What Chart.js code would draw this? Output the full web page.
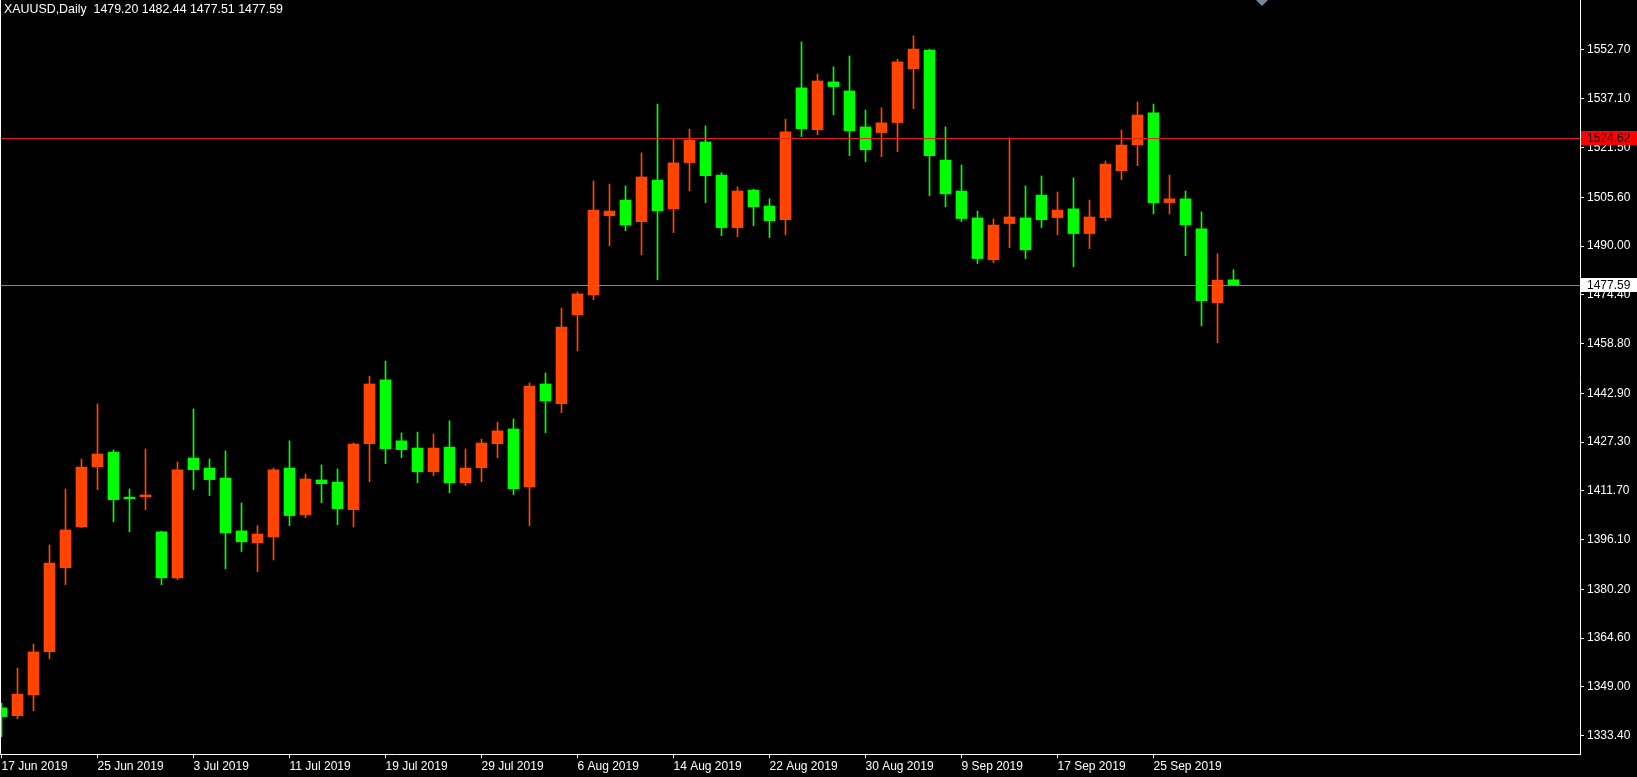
<!DOCTYPE html>
<html>
<head>
<meta charset="utf-8">
<title>XAUUSD Daily</title>
<script src="https://cdn.jsdelivr.net/npm/chart.js@4.4.1/dist/chart.umd.min.js"></script>
<style>
  html, body { margin: 0; padding: 0; background: #000; }
  canvas { display: block; }
</style>
</head>
<body>
<canvas id="xauChart" width="1637" height="777"></canvas>
<script>
const symbolTitle = "XAUUSD,Daily  1479.20 1482.44 1477.51 1477.59";

// daily OHLC, 17 Jun 2019 .. 2 Oct 2019
const opens = [1342.3, 1339.8, 1346.5, 1360.3, 1387.1, 1400.2, 1419.4, 1424.1, 1409.7, 1409.8,
  1398.6, 1383.9, 1422.2, 1419.0, 1415.8, 1398.9, 1395.1, 1397.0, 1419.0, 1404.1,
  1415.2, 1414.5, 1405.7, 1426.8, 1447.2, 1427.7, 1425.4, 1417.8, 1425.7, 1414.3,
  1419.1, 1426.8, 1431.5, 1413.0, 1445.9, 1439.6, 1468.0, 1474.4, 1499.7, 1504.7,
  1497.8, 1511.1, 1501.9, 1516.7, 1523.3, 1512.7, 1495.9, 1507.9, 1502.8, 1498.4,
  1540.6, 1527.2, 1542.5, 1539.6, 1528.1, 1526.3, 1529.5, 1546.7, 1552.7, 1517.5,
  1507.6, 1499.0, 1485.6, 1497.2, 1499.0, 1506.3, 1499.1, 1501.9, 1494.0, 1499.1,
  1514.1, 1522.4, 1532.6, 1503.9, 1505.1, 1495.5, 1471.9, 1479.20];
const highs = [1343.8, 1355.0, 1362.7, 1394.4, 1412.3, 1421.9, 1439.5, 1424.8, 1412.3, 1425.1,
  1398.8, 1420.9, 1437.9, 1421.9, 1424.5, 1407.8, 1400.6, 1419.0, 1427.7, 1417.1,
  1420.0, 1418.7, 1427.0, 1448.4, 1453.2, 1430.2, 1430.5, 1429.9, 1434.1, 1425.1,
  1428.3, 1433.7, 1434.7, 1446.2, 1449.4, 1470.2, 1475.3, 1510.8, 1509.8, 1509.2,
  1519.8, 1535.4, 1524.2, 1527.4, 1528.4, 1513.4, 1508.9, 1508.2, 1505.1, 1530.6,
  1555.3, 1545.0, 1547.3, 1550.8, 1533.5, 1534.2, 1549.8, 1557.2, 1553.0, 1528.1,
  1515.9, 1501.2, 1498.7, 1524.6, 1509.2, 1512.4, 1507.3, 1511.8, 1504.7, 1517.2,
  1527.1, 1536.1, 1535.4, 1512.7, 1507.6, 1500.9, 1487.5, 1482.44];
const lows = [1333.1, 1338.8, 1341.4, 1358.0, 1381.7, 1399.9, 1412.1, 1401.8, 1398.6, 1405.7,
  1381.7, 1383.3, 1412.1, 1410.2, 1386.8, 1392.3, 1385.9, 1389.6, 1400.6, 1403.1,
  1407.9, 1400.9, 1400.2, 1414.6, 1420.4, 1422.3, 1414.3, 1416.6, 1411.1, 1413.4,
  1414.6, 1422.3, 1410.5, 1400.6, 1430.3, 1436.7, 1456.5, 1472.8, 1490.1, 1494.9,
  1487.2, 1479.2, 1494.3, 1507.7, 1503.9, 1493.3, 1493.0, 1496.5, 1492.7, 1493.6,
  1525.0, 1525.6, 1532.0, 1518.9, 1517.0, 1518.6, 1520.2, 1533.9, 1506.1, 1502.6,
  1497.8, 1484.4, 1484.7, 1489.5, 1486.0, 1495.9, 1493.6, 1483.4, 1489.2, 1498.1,
  1511.2, 1515.7, 1500.3, 1500.3, 1486.9, 1464.5, 1459.1, 1477.51];
const closes = [1339.5, 1346.7, 1360.2, 1388.6, 1399.2, 1419.3, 1423.5, 1408.9, 1409.2, 1410.4,
  1383.9, 1418.4, 1418.5, 1415.3, 1398.3, 1395.4, 1397.9, 1418.4, 1403.8, 1415.5,
  1414.0, 1406.0, 1426.7, 1445.9, 1425.2, 1424.9, 1417.8, 1425.4, 1414.3, 1419.0,
  1427.0, 1430.9, 1412.4, 1445.2, 1440.5, 1464.1, 1474.7, 1501.5, 1501.2, 1496.7,
  1512.1, 1501.3, 1516.6, 1523.9, 1512.5, 1495.9, 1507.6, 1502.6, 1498.1, 1526.5,
  1527.5, 1542.8, 1541.0, 1526.9, 1520.8, 1529.4, 1548.9, 1553.0, 1518.9, 1506.7,
  1498.8, 1486.0, 1496.7, 1499.3, 1488.8, 1498.4, 1501.5, 1494.0, 1499.3, 1516.2,
  1522.3, 1531.9, 1503.9, 1505.1, 1496.8, 1472.5, 1479.1, 1477.59];

const tickBars = [0, 6, 12, 18, 24, 30, 36, 42, 48, 54, 60, 66, 72];
const tickDates = ["17 Jun 2019", "25 Jun 2019", "3 Jul 2019", "11 Jul 2019", "19 Jul 2019",
  "29 Jul 2019", "6 Aug 2019", "14 Aug 2019", "22 Aug 2019", "30 Aug 2019",
  "9 Sep 2019", "17 Sep 2019", "25 Sep 2019"];
const priceTicks = [1552.70, 1537.10, 1521.50, 1505.60, 1490.00, 1474.40, 1458.80, 1442.90,
  1427.30, 1411.70, 1396.10, 1380.20, 1364.60, 1349.00, 1333.40];

const bidPrice = 1477.59;
const levelPrice = 1524.62;

const UP = "#ff4500";
const DOWN = "#00ff00";
const candleColors = opens.map((o, i) => closes[i] >= o ? UP : DOWN);

Chart.defaults.font.family = "'Liberation Sans', Arial, sans-serif";
Chart.defaults.font.size = 12;
Chart.defaults.color = "#ffffff";

// horizontal lines, right-axis price boxes, title and shift marker
const overlay = {
  id: "overlay",
  afterDatasetsDraw(chart) {
    const { ctx, chartArea: a, scales: { y } } = chart;
    ctx.save();
    const lines = [[levelPrice, "#e41b1b"], [bidPrice, "#778899"]];
    lines.forEach(([p, c]) => {
      const py = Math.round(y.getPixelForValue(p)) + 0.5;
      ctx.strokeStyle = c;
      ctx.lineWidth = 1;
      ctx.beginPath();
      ctx.moveTo(a.left, py);
      ctx.lineTo(a.right, py);
      ctx.stroke();
    });
    // left frame edge
    ctx.strokeStyle = "#ffffff";
    ctx.beginPath();
    ctx.moveTo(a.left + 0.5, a.top);
    ctx.lineTo(a.left + 0.5, a.bottom);
    ctx.stroke();
    ctx.restore();
  },
  afterDraw(chart) {
    const { ctx, chartArea: a, scales: { y } } = chart;
    ctx.save();
    ctx.font = "12px 'Liberation Sans', Arial, sans-serif";
    ctx.textBaseline = "middle";
    const boxes = [[levelPrice, "#ff0000", "#000000"], [bidPrice, "#ffffff", "#000000"]];
    boxes.forEach(([p, bg, fg]) => {
      const py = Math.round(y.getPixelForValue(p));
      ctx.fillStyle = bg;
      ctx.fillRect(a.right + 1, py - 7, chart.width - a.right - 1, 14);
      ctx.fillStyle = fg;
      ctx.fillText(p.toFixed(2), a.right + 7, py + 0.5);
    });
    ctx.font = "12.4px 'Liberation Sans', Arial, sans-serif";
    ctx.fillStyle = "#ffffff";
    ctx.fillText(symbolTitle, 4, 10);
    // chart shift marker
    const mx = 1262;
    ctx.fillStyle = "#778899";
    ctx.beginPath();
    ctx.moveTo(mx - 6, 0);
    ctx.lineTo(mx + 6, 0);
    ctx.lineTo(mx, 6);
    ctx.closePath();
    ctx.fill();
    ctx.restore();
  }
};

const ctx = document.getElementById("xauChart").getContext("2d");

const xauChart = new Chart(ctx, {
  type: "bar",
  data: {
    datasets: [
      {
        // wicks
        data: opens.map((o, i) => ({ x: i, y: [lows[i], highs[i]] })),
        backgroundColor: candleColors,
        barThickness: 1,
        grouped: false,
        borderWidth: 0,
        minBarLength: 1
      },
      {
        // bodies
        data: opens.map((o, i) => ({ x: i, y: [o, closes[i]] })),
        backgroundColor: candleColors,
        barThickness: 11,
        grouped: false,
        borderWidth: 0,
        minBarLength: 1
      }
    ]
  },
  options: {
    responsive: false,
    animation: false,
    devicePixelRatio: 1,
    layout: { padding: 0 },
    plugins: {
      legend: { display: false },
      tooltip: { enabled: false },
      title: { display: false }
    },
    scales: {
      x: {
        type: "linear",
        position: "bottom",
        min: -0.09375,
        max: 98.65625,
        offset: false,
        grid: { drawOnChartArea: false, drawTicks: true, tickLength: 4, color: "#ffffff", offset: false },
        border: { display: true, color: "#ffffff", width: 1 },
        ticks: {
          autoSkip: false,
          maxRotation: 0,
          align: "start",
          padding: 1,
          color: "#ffffff",
          callback: (v, i) => tickDates[i]
        },
        afterBuildTicks: s => { s.ticks = tickBars.map(v => ({ value: v })); },
        afterFit: s => { s.height = 23; s.paddingLeft = 0; s.paddingRight = 0; }
      },
      y: {
        type: "linear",
        position: "right",
        min: 1327.55,
        max: 1568.69,
        grid: { drawOnChartArea: false, drawTicks: true, tickLength: 4, color: "#ffffff" },
        border: { display: true, color: "#ffffff", width: 1 },
        ticks: {
          padding: 3,
          color: "#ffffff",
          callback: v => v.toFixed(2)
        },
        afterBuildTicks: s => { s.ticks = priceTicks.map(v => ({ value: v })); },
        afterFit: s => { s.width = 57; s.paddingTop = 0; s.paddingBottom = 0; }
      }
    }
  },
  plugins: [overlay]
});
</script>
</body>
</html>
